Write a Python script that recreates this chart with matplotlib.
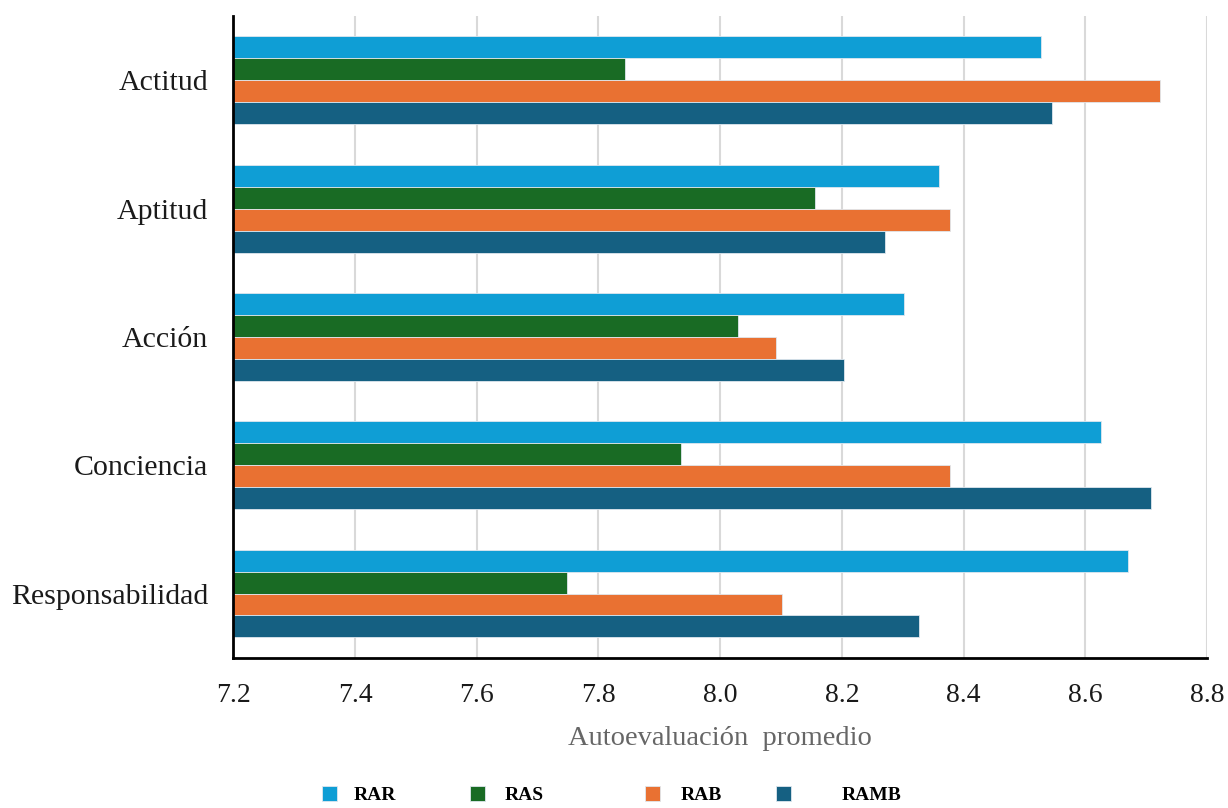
import matplotlib.pyplot as plt
import numpy as np

plt.rcParams['font.family'] = ['Liberation Serif', 'DejaVu Serif']

categorias = ['Actitud', 'Aptitud', 'Acción', 'Conciencia', 'Responsabilidad']
series = ['RAR', 'RAS', 'RAB', 'RAMB']
rar = [8.527, 8.360, 8.302, 8.626, 8.670]
ras = [7.844, 8.156, 8.030, 7.936, 7.749]
rab = [8.723, 8.378, 8.092, 8.378, 8.102]
ramb = [8.545, 8.271, 8.204, 8.708, 8.327]
colores = ['#0F9ED5', '#196B24', '#E97132', '#156082']

valores = [rar, ras, rab, ramb]

fig = plt.figure(figsize=(12.28, 8.08), dpi=100)
ax = fig.add_axes([0.19, 0.186, 0.793, 0.794])

y = np.arange(len(categorias))
h = 0.171
barras = []
for i, (nombre, vals) in enumerate(zip(series, valores)):
    b = ax.barh(y + (i - 1.5) * h, np.array(vals) - 7.2, left=7.2, height=h,
                color=colores[i], edgecolor='#dfe7ee', linewidth=0.6, label=nombre, zorder=2)
    barras.append(b)

ax.set_xlim(7.2, 8.8)
ax.set_ylim(4.5, -0.5)
ticks = np.arange(7.2, 8.81, 0.2)
ax.set_xticks(ticks)
ax.set_xticklabels([f'{v:.1f}' for v in ticks])
ax.set_yticks(y)
ax.set_yticklabels(categorias)
ax.tick_params(axis='both', length=0, colors='#1a1a1a')
ax.tick_params(axis='x', pad=18, labelsize=20)
ax.tick_params(axis='y', pad=18, labelsize=21.5)
ax.grid(axis='x', color='#d9d9d9', linewidth=1.5, zorder=0)
ax.set_axisbelow(True)

for s in ['top', 'right']:
    ax.spines[s].set_visible(False)
for s in ['left', 'bottom']:
    ax.spines[s].set_linewidth(2)
    ax.spines[s].set_color('black')
    ax.spines[s].set_zorder(5)

ax.set_xlabel('Autoevaluación  promedio', fontsize=20.5, color='#666666', labelpad=13)

# legend entries sit at uneven spacing in the original
pos_x = [0.262, 0.383, 0.525, 0.632]
pads = [0.88, 1.0, 1.08, 2.6]
for b, nombre, px, pd in zip(barras, series, pos_x, pads):
    fig.legend([b], [nombre], loc='center left', bbox_to_anchor=(px, 0.016),
               frameon=False, prop={'weight': 'bold', 'size': 14},
               handlelength=0.77, handleheight=0.77, handletextpad=pd,
               borderpad=0, borderaxespad=0)

fig.savefig('out.png', dpi=100)
